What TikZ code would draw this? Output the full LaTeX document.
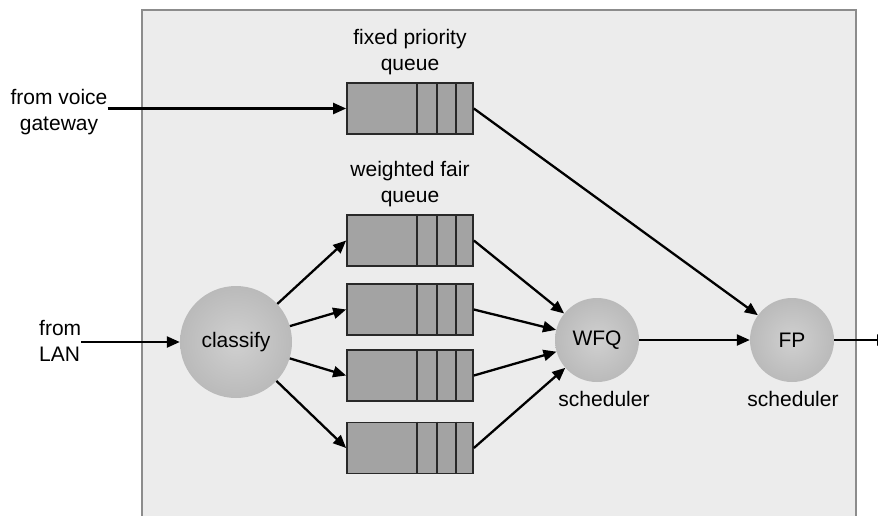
\documentclass[tikz,border=0pt]{standalone}
\usepackage{fontspec}
\setmainfont{Liberation Sans}
\usetikzlibrary{arrows.meta}

\definecolor{panel}{RGB}{236,236,236}
\definecolor{paneledge}{RGB}{140,140,140}
\definecolor{qfill}{RGB}{163,163,163}
\definecolor{qedge}{RGB}{40,40,40}
\definecolor{balllight}{RGB}{208,208,208}
\definecolor{balldark}{RGB}{164,164,164}
\pgfdeclareradialshading{ballshade}{\pgfpoint{0bp}{0bp}}{color(0bp)=(balllight); color(50bp)=(balldark); color(75bp)=(balldark)}

\begin{document}
\begin{tikzpicture}[x=1pt, y=-1pt,
  font=\fontsize{21}{26}\selectfont,
  queue/.style={draw=qedge, line width=1.7pt, fill=qfill,
    minimum width=126pt, minimum height=51pt, inner sep=0pt},
  ball/.style={circle, shading=ballshade, inner sep=0pt},
  flow/.style={line width=2.3pt, -{Triangle[length=13pt,width=11pt]}},
  caption/.style={align=center, inner sep=0pt}]

  \useasboundingbox (0,0) rectangle (878,515);
  \clip (0,0) rectangle (878,515);

  % router panel
  \draw[paneledge, fill=panel, line width=1.6pt] (142,10) rectangle (856,540);

  % queues: one fixed priority queue, four weighted fair queues
  \node[queue] (fpq) at (410,108.5) {};
  \node[queue] (w1) at (410,240.5) {};
  \node[queue] (w2) at (410,309.5) {};
  \node[queue] (w3) at (410,375.5) {};
  \node[queue] (w4) at (410,448) {};
  \foreach \q in {fpq,w1,w2,w3,w4}
    \foreach \d in {71,91,110}
      \draw[qedge, line width=1.7pt]
        ([xshift=\d pt]\q.north west) -- ([xshift=\d pt]\q.south west);

  % classifier and schedulers
  \node[ball, minimum size=112pt] (cls) at (236,342) {classify};
  \node[ball, minimum size=84pt] (wfq) at (597,340) {WFQ};
  \node[ball, minimum size=84pt] (fp) at (792,340) {FP};

  % labels
  \node[caption] (fpqlab) at (410,52.5) {fixed priority\\queue};
  \node[caption] (wfqlab) at (410,184) {weighted fair\\queue};
  \node[caption] (wsch) at (604,399) {scheduler};
  \node[caption] (fsch) at (793,399) {scheduler};
  \node[caption] (voice) at (59,112.5) {from voice\\gateway};
  \node[caption, align=left, anchor=west] (lan) at (39,341) {from\\LAN};

  % inputs
  \draw[flow] (voice.east |- fpq.west) -- (fpq.west);
  \draw[flow] (lan.east |- cls.west) -- (cls.west);

  % classifier to weighted fair queues
  \foreach \q in {w1,w2,w3,w4}
    \draw[flow] (cls) -- (\q.west);

  % weighted fair queues to WFQ scheduler
  \foreach \q in {w1,w2,w3,w4}
    \draw[flow] (\q.east) -- (wfq);

  % schedulers
  \draw[flow] (fpq.east) -- (fp);
  \draw[flow] (wfq) -- (fp);
  \coordinate (out) at (890,340);
  \draw[flow] (fp) -- (out);
\end{tikzpicture}
\end{document}
